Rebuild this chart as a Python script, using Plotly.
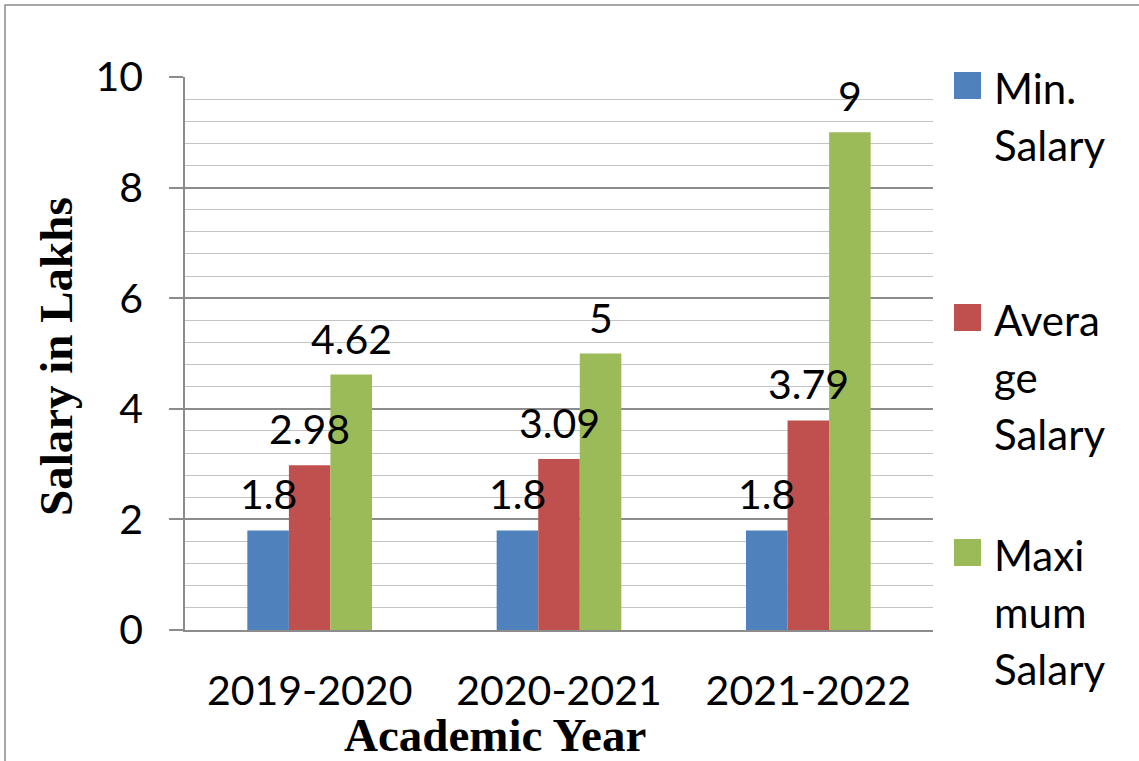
import plotly.graph_objects as go

years = ["2019-2020", "2020-2021", "2021-2022"]
min_salary = [1.8, 1.8, 1.8]
avg_salary = [2.98, 3.09, 3.79]
max_salary = [4.62, 5, 9]

series_names = ["Min.<br>Salary", "Avera<br>ge<br>Salary", "Maxi<br>mum<br>Salary"]
series_values = [min_salary, avg_salary, max_salary]
series_colors = ["#4F81BD", "#C0504D", "#9BBB59"]

x_title = "Academic Year"
y_title = "Salary in Lakhs"

FONT = "Lato"
SIZE = 41
TITLE_FONT = "Liberation Serif"
TITLE_SIZE = 47
BARGAP = 0.5

x_pos = list(range(len(years)))
fig = go.Figure()
for name, vals, col in zip(series_names, series_values, series_colors):
    fig.add_trace(go.Bar(
        x=x_pos, y=vals, name=name.replace("<br>", ""),
        marker=dict(color=col, line=dict(width=0)), showlegend=False,
    ))

L, R, T, B = 185, 206, 77, 131
W, H = 1139, 761
pw, ph = W - L - R, H - T - B


def px_x(px):
    return (px - L) / pw


def px_y(py):
    return (H - B - py) / ph


# data labels above bars
w = (1 - BARGAP) / len(series_values)
annotations = []
for k, vals in enumerate(series_values):
    off = (k - (len(series_values) - 1) / 2) * w
    for i, v in enumerate(vals):
        annotations.append(dict(
            x=x_pos[i] + off, y=v, xref="x", yref="y", text=f"{v:g}",
            showarrow=False, yanchor="bottom", yshift=10,
            font=dict(family=FONT, size=SIZE, color="black"),
        ))

# axis titles
annotations.append(dict(
    x=px_x(495), y=px_y(735), xref="paper", yref="paper", text=f"<b>{x_title}</b>",
    showarrow=False, xanchor="center", yanchor="middle",
    font=dict(family=TITLE_FONT, size=TITLE_SIZE, color="black"),
))
annotations.append(dict(
    x=px_x(56), y=px_y(357), xref="paper", yref="paper", text=f"<b>{y_title}</b>",
    showarrow=False, xanchor="center", yanchor="middle", textangle=-90,
    font=dict(family=TITLE_FONT, size=TITLE_SIZE, color="black"),
))

# outer border
shapes = [dict(
    type="rect", xref="paper", yref="paper",
    x0=px_x(5), x1=px_x(W + 10), y0=px_y(H + 10), y1=px_y(5),
    line=dict(color="#8c8c8c", width=1.5), fillcolor="rgba(0,0,0,0)", layer="below",
)]

# legend (swatch + wrapped names), laid out like the source chart
legend_first_line = [88, 320, 555]
LINE_H = 57
for name, col, y0 in zip(series_names, series_colors, legend_first_line):
    shapes.append(dict(
        type="rect", xref="paper", yref="paper",
        x0=px_x(954), x1=px_x(981), y0=px_y(y0 + 11), y1=px_y(y0 - 16),
        line=dict(width=0), fillcolor=col,
    ))
    for j, line in enumerate(name.split("<br>")):
        annotations.append(dict(
            x=px_x(992), y=px_y(y0 + j * LINE_H), xref="paper", yref="paper",
            xanchor="left", yanchor="middle", text=line, showarrow=False,
            font=dict(family=FONT, size=SIZE + 1, color="black"),
        ))

fig.update_layout(
    width=W, height=H,
    margin=dict(l=L, r=R, t=T, b=B),
    paper_bgcolor="white", plot_bgcolor="white",
    barmode="group", bargap=BARGAP, bargroupgap=0,
    font=dict(family=FONT, size=SIZE, color="black"),
    showlegend=False,
    annotations=annotations,
    shapes=shapes,
)

fig.update_xaxes(
    range=[-0.5, 2.5], tickvals=x_pos, ticktext=years,
    showgrid=False, zeroline=False,
    showline=True, linecolor="#8c8c8c", linewidth=1.5,
    ticks="", ticklabelstandoff=24,
    tickfont=dict(family=FONT, size=SIZE, color="black"),
)

fig.update_yaxes(
    range=[0, 10], dtick=2, tick0=0,
    showgrid=True, gridcolor="#8c8c8c", gridwidth=1.5,
    zeroline=False,
    showline=True, linecolor="#8c8c8c", linewidth=1.5,
    ticks="outside", ticklen=14, tickcolor="#8c8c8c", tickwidth=1.5,
    ticklabelstandoff=18,
    tickfont=dict(family=FONT, size=SIZE, color="black"),
    minor=dict(dtick=0.4, showgrid=True, gridcolor="#c4c4c4", gridwidth=1.2, ticks=""),
)

fig.write_html(
    "out.html",
    config={"displayModeBar": False},
    post_script="document.body.style.margin='0px';",
)
